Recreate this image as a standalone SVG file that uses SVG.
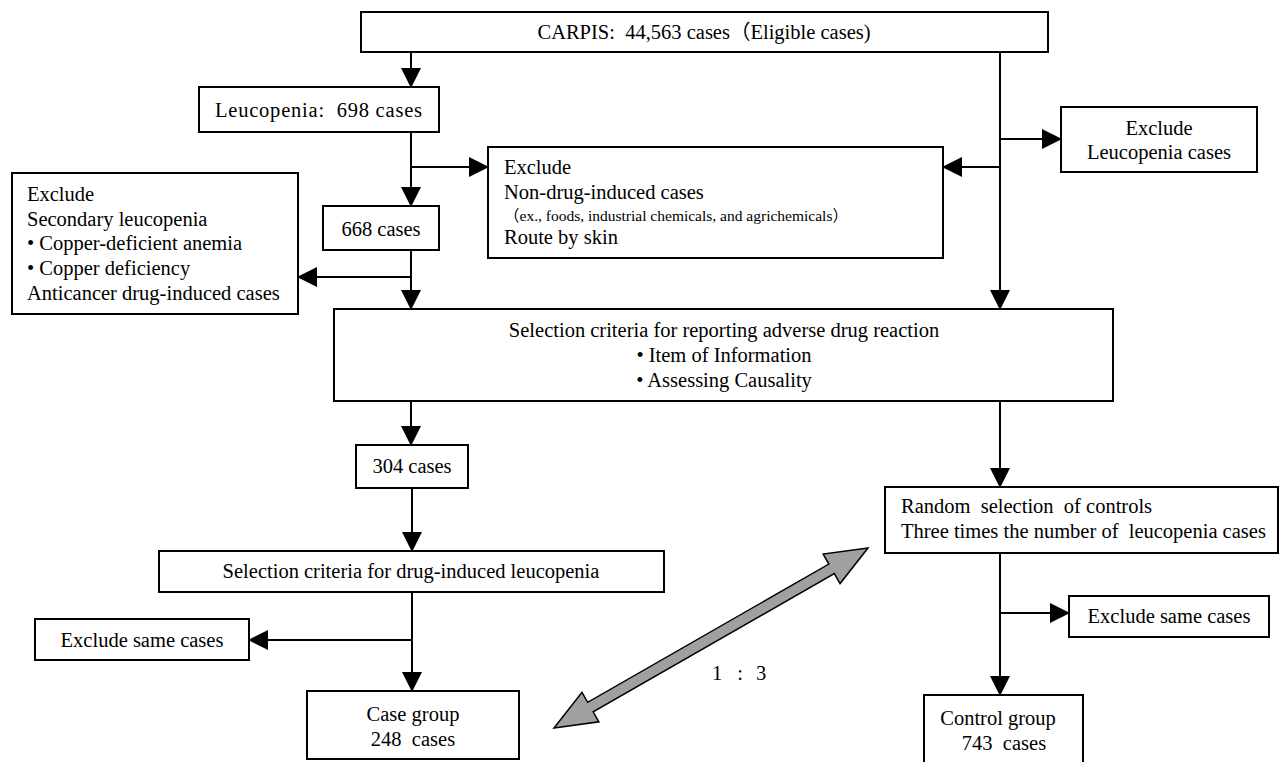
<svg xmlns="http://www.w3.org/2000/svg" width="1283" height="762" viewBox="0 0 1283 762">
<style>
.box{fill:#fff;stroke:#000;stroke-width:2}
text{font-family:"Liberation Serif","Noto Sans CJK JP",serif;font-size:20.5px;fill:#000;white-space:pre}
.c{text-anchor:middle}
.sm{font-size:15.5px}
.conn line{stroke:#000;stroke-width:2;fill:none}
.arr{marker-end:url(#ah)}
</style>
<defs>
<marker id="ah" viewBox="0 0 20 20" refX="19" refY="10" markerWidth="20" markerHeight="20" markerUnits="userSpaceOnUse" orient="auto">
<path d="M0,0 L20,10 L0,20 Z" fill="#000"/>
</marker>
</defs>
<rect width="1283" height="762" fill="#fff"/>

<g id="connectors" class="conn">
<line class="arr" x1="411" y1="52" x2="411" y2="87"/>
<line class="arr" x1="411" y1="132" x2="411" y2="206"/>
<line class="arr" x1="411" y1="167" x2="488" y2="167"/>
<line class="arr" x1="411" y1="250" x2="411" y2="309"/>
<line class="arr" x1="411" y1="277" x2="298" y2="277"/>
<line class="arr" x1="1000" y1="52" x2="1000" y2="309"/>
<line class="arr" x1="1000" y1="139" x2="1061" y2="139"/>
<line class="arr" x1="1000" y1="167" x2="943" y2="167"/>
<line class="arr" x1="411" y1="401" x2="411" y2="445"/>
<line class="arr" x1="412" y1="488" x2="412" y2="551"/>
<line class="arr" x1="412" y1="592" x2="412" y2="691"/>
<line class="arr" x1="412" y1="640" x2="249" y2="640"/>
<line class="arr" x1="1000" y1="401" x2="1000" y2="487"/>
<line class="arr" x1="1000" y1="553" x2="1000" y2="695"/>
<line class="arr" x1="1000" y1="613" x2="1069" y2="613"/>
<path id="ratio-arrow" transform="translate(554,728) rotate(-29.83)" d="M0,0 L42,-17 L42,-5.5 L320,-5.5 L320,-17 L362,0 L320,17 L320,5.5 L42,5.5 L42,17 Z" fill="#a0a0a0" stroke="#000" stroke-width="1.5" stroke-linejoin="miter"/>
<text x="717" y="680" class="c">1</text>
<text x="740" y="680" class="c">:</text>
<text x="761" y="680" class="c">3</text>
</g>

<g id="n-carpis">
<rect class="box" x="361" y="12" width="687" height="40"/>
<text x="704" y="39" class="c">CARPIS:  44,563 cases（Eligible cases)</text>
</g>
<g id="n-leucopenia">
<rect class="box" x="199" y="87" width="240" height="45"/>
<text x="215" y="117" textLength="207">Leucopenia:  698 cases</text>
</g>
<g id="n-668">
<rect class="box" x="323" y="206" width="116" height="44"/>
<text x="381" y="236" class="c">668 cases</text>
</g>
<g id="n-exclude-secondary">
<rect class="box" x="12" y="173" width="286" height="141"/>
<text x="27" y="201">Exclude</text>
<text x="27" y="226">Secondary leucopenia</text>
<text x="27" y="250">• Copper-deficient anemia</text>
<text x="27" y="275">• Copper deficiency</text>
<text x="27" y="300">Anticancer drug-induced cases</text>
</g>
<g id="n-exclude-nondrug">
<rect class="box" x="488" y="147" width="455" height="111"/>
<text x="504" y="174">Exclude</text>
<text x="504" y="199">Non-drug-induced cases</text>
<text x="504" y="221" class="sm">（ex., foods, industrial chemicals, and agrichemicals）</text>
<text x="504" y="244">Route by skin</text>
</g>
<g id="n-exclude-leucopenia">
<rect class="box" x="1061" y="107" width="196" height="65"/>
<text x="1159" y="135" class="c">Exclude</text>
<text x="1159" y="159" class="c">Leucopenia cases</text>
</g>
<g id="n-selection-adr">
<rect class="box" x="334" y="309" width="779" height="92"/>
<text x="724" y="337" class="c">Selection criteria for reporting adverse drug reaction</text>
<text x="724" y="362" class="c">• Item of Information</text>
<text x="724" y="387" class="c">• Assessing Causality</text>
</g>
<g id="n-304">
<rect class="box" x="356" y="445" width="112" height="43"/>
<text x="412" y="473" class="c">304 cases</text>
</g>
<g id="n-selection-dil">
<rect class="box" x="159" y="551" width="505" height="41"/>
<text x="411" y="578" class="c">Selection criteria for drug-induced leucopenia</text>
</g>
<g id="n-exclude-same-left">
<rect class="box" x="35" y="619" width="214" height="41"/>
<text x="142" y="647" class="c">Exclude same cases</text>
</g>
<g id="n-case-group">
<rect class="box" x="307" y="691" width="212" height="68"/>
<text x="413" y="721" class="c">Case group</text>
<text x="413" y="746" class="c">248  cases</text>
</g>
<g id="n-random">
<rect class="box" x="885" y="487" width="393" height="66"/>
<text x="901" y="513">Random  selection  of controls</text>
<text x="901" y="538">Three times the number of  leucopenia cases</text>
</g>
<g id="n-exclude-same-right">
<rect class="box" x="1069" y="596" width="200" height="41"/>
<text x="1169" y="623" class="c">Exclude same cases</text>
</g>
<g id="n-control-group">
<rect class="box" x="924" y="695" width="159" height="70"/>
<text x="998" y="725" class="c">Control group</text>
<text x="1004" y="750" class="c">743  cases</text>
</g>
</svg>
